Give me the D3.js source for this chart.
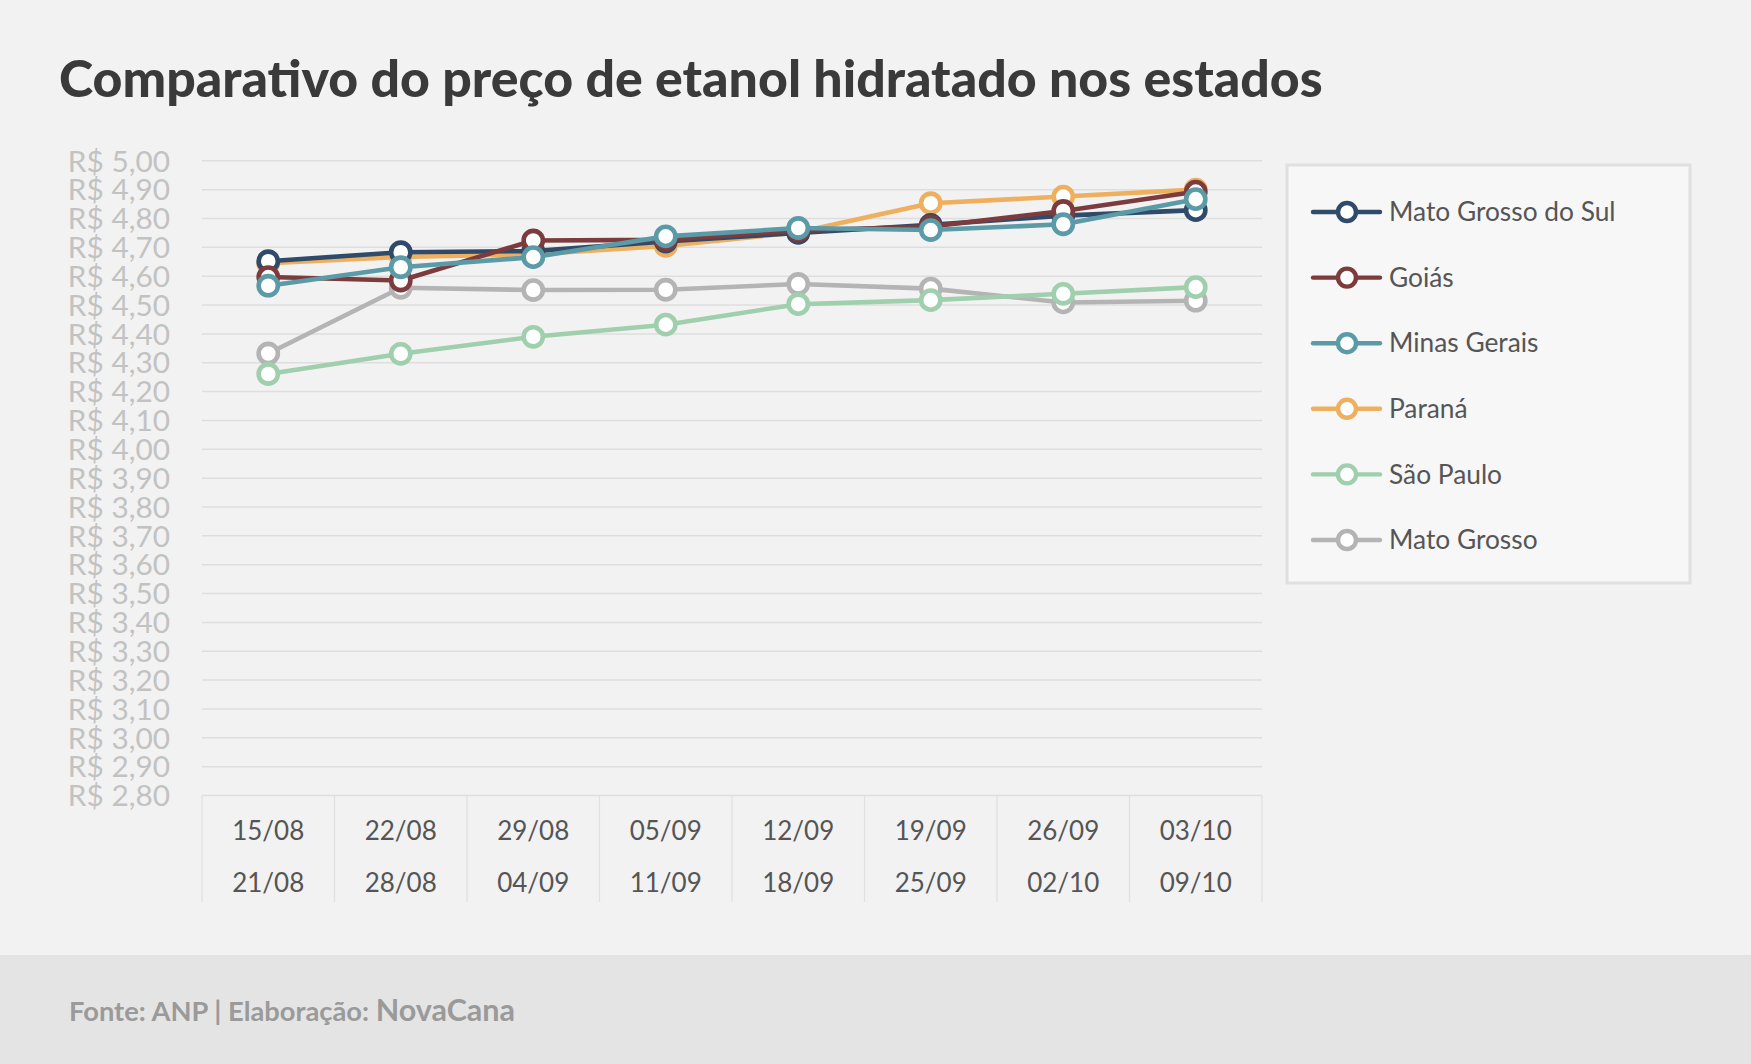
<!DOCTYPE html>
<html><head><meta charset="utf-8">
<script src="https://cdn.jsdelivr.net/npm/d3@7"></script>
<style>html,body{margin:0;padding:0;background:#f2f2f2;}svg{display:block;}</style>
</head><body>
<svg id="c" width="1751" height="1064"></svg>
<script>
const weekStart = ["15/08","22/08","29/08","05/09","12/09","19/09","26/09","03/10"];
const weekEnd   = ["21/08","28/08","04/09","11/09","18/09","25/09","02/10","09/10"];
const seriesNames = ["Mato Grosso do Sul","Goiás","Minas Gerais","Paraná","São Paulo","Mato Grosso"];
const msValues = [4.652,4.683,4.687,4.720,4.750,4.778,4.810,4.829];
const goValues = [4.597,4.585,4.724,4.726,4.758,4.772,4.826,4.893];
const mgValues = [4.567,4.631,4.666,4.738,4.767,4.760,4.780,4.867];
const prValues = [4.645,4.667,4.676,4.705,4.752,4.853,4.876,4.900];
const spValues = [4.261,4.331,4.390,4.432,4.503,4.517,4.539,4.562];
const mtValues = [4.332,4.560,4.552,4.553,4.573,4.557,4.509,4.515];
const yTicks = [2.8,2.9,3.0,3.1,3.2,3.3,3.4,3.5,3.6,3.7,3.8,3.9,4.0,4.1,4.2,4.3,4.4,4.5,4.6,4.7,4.8,4.9,5.0];
const colors = ["#2f4a6a","#7c3b3c","#5b9aa7","#eeb05f","#9fcfac","#b4b4b4"];
const allValues = [msValues,goValues,mgValues,prValues,spValues,mtValues];
const drawOrder = [5,4,3,0,1,2];

const svg = d3.select("#c");
const W = 1751, H = 1064;
svg.append("rect").attr("width",W).attr("height",H).attr("fill","#f2f2f2");
svg.append("rect").attr("x",0).attr("y",955).attr("width",W).attr("height",H-955).attr("fill","#e4e4e4");

svg.append("text").attr("x",59).attr("y",97).text("Comparativo do preço de etanol hidratado nos estados")
  .attr("font-family","Lato").attr("font-weight",900).attr("font-size",51.8).attr("fill","#3a3a3a");

const x = d3.scaleBand().domain(weekStart).range([202,1262]);
const y = d3.scaleLinear().domain([2.8,5.0]).range([795.5,160.8]);

// gridlines
svg.append("g").selectAll("line").data(yTicks).join("line")
  .attr("x1",202).attr("x2",1262).attr("y1",d=>y(d)).attr("y2",d=>y(d))
  .attr("stroke","#dedede").attr("stroke-width",1.5);

// y labels
const fmt = v => "R$ " + v.toFixed(2).replace(".",",");
svg.append("g").selectAll("text").data(yTicks).join("text")
  .attr("x",170).attr("y",d=>y(d)).attr("dy","0.36em").attr("text-anchor","end")
  .attr("font-family","Lato").attr("font-size",29.8).attr("fill","#c2c2c2").text(fmt);

// category cells
const cellLines = weekStart.map(d=>x(d)).concat([1262]);
svg.append("g").selectAll("line").data(cellLines).join("line")
  .attr("x1",d=>d).attr("x2",d=>d).attr("y1",795.5).attr("y2",902)
  .attr("stroke","#e0e0e0").attr("stroke-width",1.2);
const cat = svg.append("g").attr("font-family","Lato").attr("font-size",26).attr("fill","#555").attr("text-anchor","middle");
cat.selectAll("text.a").data(weekStart).join("text").attr("class","a")
  .attr("x",d=>x(d)+x.bandwidth()/2).attr("y",840).text(d=>d);
cat.selectAll("text.b").data(weekEnd).join("text").attr("class","b")
  .attr("x",(d,i)=>x(weekStart[i])+x.bandwidth()/2).attr("y",892).text(d=>d);

// series
const line = d3.line().x((d,i)=>x(weekStart[i])+x.bandwidth()/2).y(d=>y(d));
drawOrder.forEach(si=>{
  const g = svg.append("g");
  g.append("path").datum(allValues[si]).attr("d",line).attr("fill","none")
    .attr("stroke",colors[si]).attr("stroke-width",4.6).attr("stroke-linejoin","round");
  g.selectAll("circle").data(allValues[si]).join("circle")
    .attr("cx",(d,i)=>x(weekStart[i])+x.bandwidth()/2).attr("cy",d=>y(d)).attr("r",9.6)
    .attr("fill","#fff").attr("stroke",colors[si]).attr("stroke-width",4.6);
});

// legend
svg.append("rect").attr("x",1287).attr("y",165).attr("width",403).attr("height",418)
  .attr("fill","#f7f7f7").attr("stroke","#e0e0e0").attr("stroke-width",3);
const lg = svg.append("g").selectAll("g").data(seriesNames).join("g")
  .attr("transform",(d,i)=>`translate(0,${212+i*65.6})`);
lg.append("line").attr("x1",1313).attr("x2",1380).attr("stroke",(d,i)=>colors[i]).attr("stroke-width",4.4).attr("stroke-linecap","round");
lg.append("circle").attr("cx",1347).attr("r",9).attr("fill","#fff").attr("stroke",(d,i)=>colors[i]).attr("stroke-width",4.4);
lg.append("text").attr("x",1389).attr("dy","0.35em").attr("font-family","Lato").attr("font-size",26.3).attr("fill","#555").text(d=>d);

// footer
const ft = svg.append("text").attr("x",69).attr("y",1021).attr("font-family","Lato").attr("fill","#9a9a9a");
ft.append("tspan").attr("font-weight",700).attr("font-size",27.3).text("Fonte: ANP | Elaboração: ");
ft.append("tspan").attr("font-weight",700).attr("font-size",30.5).text("NovaCana");
</script>
</body></html>
